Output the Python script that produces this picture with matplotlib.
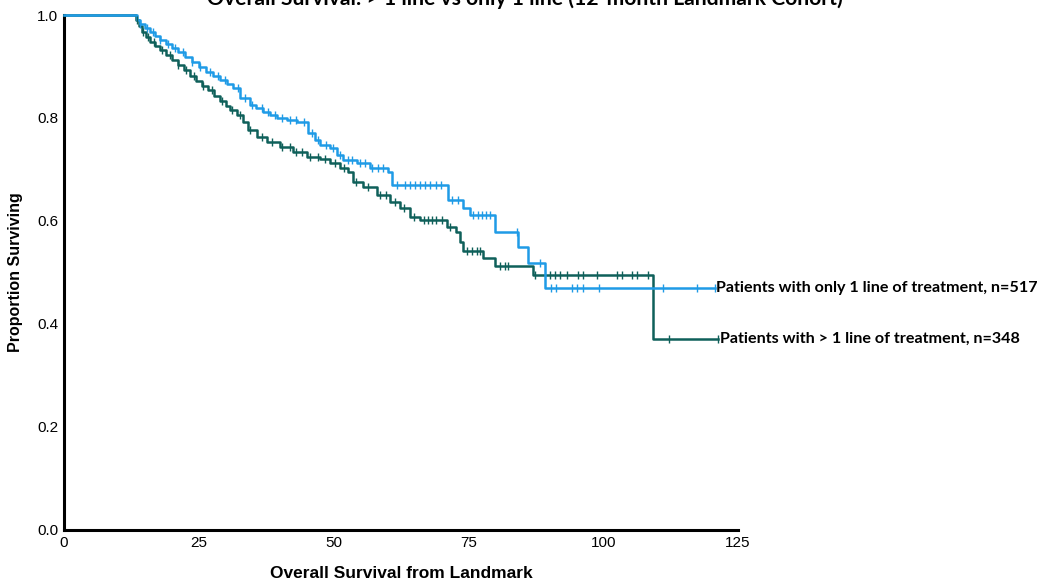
import numpy as np
import matplotlib
matplotlib.use("Agg")
import matplotlib.pyplot as plt

# step points (time in months, proportion surviving after the step)
one_t = [0, 13.0, 13.5, 14.1, 15.0, 16.0, 16.9, 17.8, 18.9, 20.0, 21.1, 22.4, 23.7, 25.0,
         26.3, 27.6, 28.9, 30.2, 31.3, 32.6, 34.5, 35.6, 36.9, 38.2, 39.5, 41.4, 43.2,
         45.3, 46.6, 47.5, 49.3, 50.6, 51.7, 54.3, 56.8, 60.1, 60.8, 71.2, 74.0, 75.3,
         79.9, 84.2, 86.1, 89.2]
one_s = [1.0, 1.0, 0.990, 0.983, 0.975, 0.967, 0.959, 0.951, 0.944, 0.936, 0.928, 0.918,
         0.909, 0.899, 0.889, 0.882, 0.874, 0.866, 0.858, 0.839, 0.825, 0.819, 0.812, 0.806,
         0.800, 0.796, 0.792, 0.771, 0.757, 0.748, 0.742, 0.728, 0.718, 0.712, 0.703, 0.695,
         0.670, 0.641, 0.625, 0.612, 0.579, 0.550, 0.518, 0.470]
one_end = 120.7
one_cens = [14.1, 15.4, 16.5, 17.8, 19.3, 20.6, 22.1, 23.7, 25.2, 27.1, 28.6, 29.9, 32.3,
            33.6, 34.9, 36.7, 37.8, 39.1, 40.4, 41.9, 43.0, 44.5, 46.0, 47.1, 48.6, 49.9,
            51.2, 52.7, 53.4, 54.9, 55.8, 57.1, 58.2, 59.2, 61.8, 63.2, 64.2, 65.1, 66.0,
            66.9, 67.9, 69.0, 69.9, 72.0, 73.1, 75.9, 76.8, 77.5, 78.3, 79.0, 84.0, 88.3,
            90.3, 91.2, 94.2, 95.1, 96.3, 99.2, 111.1, 117.4, 120.7]

multi_t = [0, 13.0, 13.35, 13.9, 14.5, 15.2, 16.0, 16.9, 17.8, 18.9, 20.0, 21.1, 22.3, 23.4,
           24.5, 25.6, 26.7, 27.8, 28.9, 30.0, 30.8, 32.1, 33.2, 34.1, 35.8, 37.7, 40.1,
           42.5, 45.1, 47.5, 49.3, 51.2, 52.7, 53.6, 55.5, 58.1, 60.5, 62.3, 64.2, 66.0,
           71.0, 72.7, 73.4, 74.0, 77.7, 79.9, 87.0, 109.2]
multi_s = [1.0, 1.0, 0.990, 0.979, 0.967, 0.957, 0.948, 0.940, 0.932, 0.922, 0.913, 0.903,
           0.893, 0.882, 0.872, 0.862, 0.854, 0.843, 0.833, 0.823, 0.816, 0.806, 0.792,
           0.777, 0.763, 0.753, 0.744, 0.734, 0.724, 0.720, 0.712, 0.703, 0.695, 0.676,
           0.666, 0.650, 0.637, 0.626, 0.608, 0.602, 0.589, 0.579, 0.559, 0.542, 0.528,
           0.513, 0.495, 0.371]
multi_end = 121.3
multi_cens = [13.5, 14.7, 15.6, 16.7, 18.2, 19.7, 21.1, 22.6, 24.1, 25.8, 27.4, 29.3, 31.2,
              32.6, 34.5, 36.7, 38.6, 40.4, 41.9, 43.0, 44.1, 45.6, 47.1, 48.4, 50.3, 51.9,
              54.2, 56.4, 58.6, 59.7, 61.4, 63.1, 64.9, 66.8, 67.5, 68.2, 69.0, 70.1, 71.6,
              74.7, 75.7, 76.6, 77.2, 80.9, 81.8, 82.3, 87.4, 90.1, 91.1, 92.0, 93.3, 95.3,
              96.3, 98.9, 102.6, 103.5, 105.4, 106.3, 108.3, 112.2, 121.3]

labels = ["Patients with only 1 line of treatment, n=517",
          "Patients with > 1 line of treatment, n=348"]
colors = ["#1f9be6", "#0f605a"]
title = "Overall Survival: > 1 line vs only 1 line (12-month Landmark Cohort)"

fig = plt.figure(figsize=(10.52, 5.86), dpi=100)
ax = fig.add_axes([0.0608, 0.0956, 0.6408, 0.8788])


def draw_curve(t, s, t_end, cens, color, label):
    tt = np.append(t, t_end)
    ss = np.append(s, s[-1])
    ax.step(tt, ss, where="post", color=color, lw=1.8, clip_on=False, zorder=3)
    # censor marks sit on the curve
    idx = np.searchsorted(t, cens, side="right") - 1
    ax.plot(cens, np.array(s)[idx], ls="none", marker="|", ms=5.5, mew=1.0,
            color=color, clip_on=False, zorder=4)
    ax.annotate(label, xy=(t_end, s[-1]), xytext=(1, 0), textcoords="offset points",
                va="center", ha="left", fontsize=11.6, fontweight="bold",
                family="Lato", annotation_clip=False)


draw_curve(multi_t, multi_s, multi_end, multi_cens, colors[1], labels[1])
draw_curve(one_t, one_s, one_end, one_cens, colors[0], labels[0])

ax.set_xlim(0, 125)
ax.set_ylim(0, 1.0)
ax.set_xticks([0, 25, 50, 75, 100, 125])
ax.set_yticks([0.0, 0.2, 0.4, 0.6, 0.8, 1.0])
ax.set_yticklabels(["0.0", "0.2", "0.4", "0.6", "0.8", "1.0"])
ax.tick_params(length=0)
ax.tick_params(axis="x", pad=4)
ax.tick_params(axis="y", pad=4)
for lab in ax.get_xticklabels() + ax.get_yticklabels():
    lab.set_family("Liberation Sans")
    lab.set_fontsize(11)

for side in ["top", "right"]:
    ax.spines[side].set_visible(False)
for side in ["left", "bottom"]:
    ax.spines[side].set_linewidth(2.2)
    ax.spines[side].set_color("black")

ax.set_xlabel("Overall Survival from Landmark", fontsize=12.5, fontweight="bold",
              family="Liberation Sans", labelpad=12)
ax.set_ylabel("Proportion Surviving", fontsize=11.5, fontweight="bold",
              family="Liberation Sans", labelpad=10)

fig.text(0.499, 1 - 5 / 586, title, ha="center", va="baseline", fontsize=15.2,
         fontweight="bold", family="Lato")

fig.savefig("out.png", dpi=100)
